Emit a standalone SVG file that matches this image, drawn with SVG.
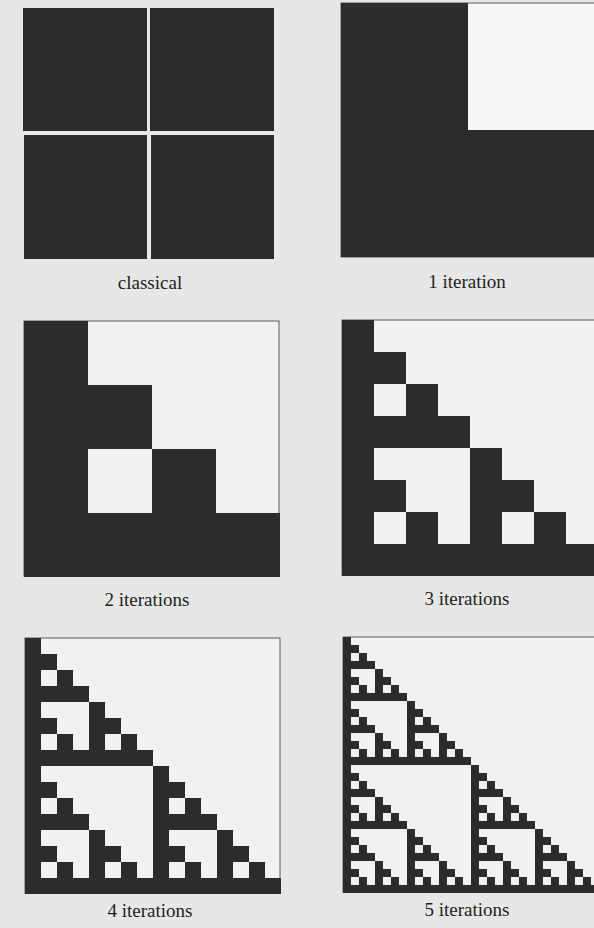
<svg xmlns="http://www.w3.org/2000/svg" xmlns:xlink="http://www.w3.org/1999/xlink" width="594" height="928" viewBox="0 0 594 928">
  <style>
    .bg { fill: #e7e7e7; }
    .frame { fill: #f1f1f1; stroke: #5a5a5a; stroke-width: 1; }
    .ink { fill: #2c2c2c; shape-rendering: crispEdges; }
    .label { font-family: "Liberation Serif", "Times New Roman", serif; font-size: 19px; fill: #1e1e1e; text-anchor: middle; }
  </style>
  <defs>
    <rect id="t0" width="1" height="1"/>
    <g id="t1"><use xlink:href="#t0"/><use xlink:href="#t0" y="1"/><use xlink:href="#t0" x="1" y="1"/></g>
    <g id="t2"><use xlink:href="#t1"/><use xlink:href="#t1" y="2"/><use xlink:href="#t1" x="2" y="2"/></g>
    <g id="t3"><use xlink:href="#t2"/><use xlink:href="#t2" y="4"/><use xlink:href="#t2" x="4" y="4"/></g>
    <g id="t4"><use xlink:href="#t3"/><use xlink:href="#t3" y="8"/><use xlink:href="#t3" x="8" y="8"/></g>
    <g id="t5"><use xlink:href="#t4"/><use xlink:href="#t4" y="16"/><use xlink:href="#t4" x="16" y="16"/></g>
  </defs>
  <rect class="bg" x="0" y="0" width="594" height="928"/>

  <g id="classical">
    <rect class="ink" x="23" y="8" width="123.5" height="123"/>
    <rect class="ink" x="150" y="8" width="123.5" height="123"/>
    <rect class="ink" x="23.5" y="135" width="123" height="123.5"/>
    <rect class="ink" x="151" y="135" width="123" height="123.5"/>
    <text class="label" x="150" y="289">classical</text>
  </g>

  <g id="iter1">
    <rect class="frame" x="341" y="3" width="254" height="254" style="fill:#f6f6f6"/>
    <g class="ink" transform="translate(341,3) scale(127)"><use xlink:href="#t1"/></g>
    <text class="label" x="467" y="288">1 iteration</text>
  </g>

  <g id="iter2">
    <rect class="frame" x="24" y="321" width="255" height="255"/>
    <g class="ink" transform="translate(24,321) scale(64)"><use xlink:href="#t2"/></g>
    <text class="label" x="147" y="606">2 iterations</text>
  </g>

  <g id="iter3">
    <rect class="frame" x="342" y="320" width="255" height="255"/>
    <g class="ink" transform="translate(342,320) scale(32)"><use xlink:href="#t3"/></g>
    <text class="label" x="467" y="605">3 iterations</text>
  </g>

  <g id="iter4">
    <rect class="frame" x="25" y="638" width="255" height="255"/>
    <g class="ink" transform="translate(25,638) scale(16)"><use xlink:href="#t4"/></g>
    <text class="label" x="150" y="917">4 iterations</text>
  </g>

  <g id="iter5">
    <rect class="frame" x="343" y="637" width="255" height="255"/>
    <g class="ink" transform="translate(343,637) scale(8)"><use xlink:href="#t5"/></g>
    <text class="label" x="467" y="916">5 iterations</text>
  </g>

  <g id="connectors"></g>
</svg>
